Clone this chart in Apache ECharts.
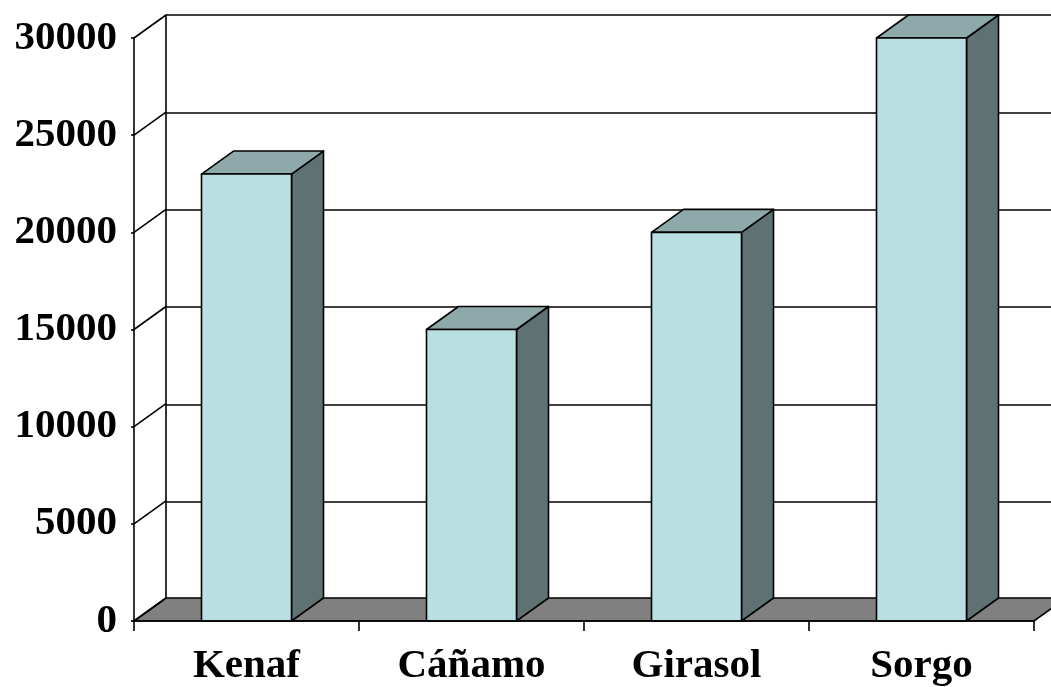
<!DOCTYPE html>
<html><head><meta charset="utf-8">
<script src="https://cdn.jsdelivr.net/npm/echarts@6/dist/echarts.min.js"></script>
<style>html,body{margin:0;padding:0;background:#fff}#c{width:1051px;height:687px}</style>
</head><body><div id="c"></div>
<script>
const categories = ['Kenaf', 'Cáñamo', 'Girasol', 'Sorgo'];
const values = [23000, 15000, 20000, 30000];
const yTicks = [0, 5000, 10000, 15000, 20000, 25000, 30000];

const DX = 32, DY = -23;
const FONT = "'Liberation Serif','Times New Roman',serif";
const C_FRONT = '#BADFE2', C_TOP = '#8EA9AA', C_SIDE = '#5F7273', C_FLOOR = '#808080';
const LW = 1.6;

const chart = echarts.init(document.getElementById('c'), null, {renderer: 'canvas'});
chart.setOption({
  animation: false,
  grid: [
    {left: 134, right: 17, top: 38, bottom: 65},
    {left: 166, right: -15, top: 15, bottom: 88}
  ],
  xAxis: [
    {type: 'category', gridIndex: 0, data: categories, boundaryGap: true, z: 5,
     axisLine: {lineStyle: {color: '#000', width: LW}},
     axisTick: {show: true, length: 10, lineStyle: {color: '#000', width: LW}},
     axisLabel: {color: '#000', fontFamily: FONT, fontWeight: 'bold', fontSize: 41, margin: 25}},
    {type: 'category', gridIndex: 1, data: categories, show: false}
  ],
  yAxis: [
    {type: 'value', gridIndex: 0, min: 0, max: 30000, interval: 5000, z: 5,
     splitLine: {show: false},
     axisLine: {show: true, lineStyle: {color: '#000', width: LW}},
     axisTick: {show: true, length: 3, lineStyle: {color: '#000', width: LW}},
     axisLabel: {color: '#000', fontFamily: FONT, fontWeight: 'bold', fontSize: 41, margin: 17,
       formatter: v => String(v)}},
    {type: 'value', gridIndex: 1, min: 0, max: 30000, interval: 5000, z: 0,
     splitLine: {show: true, lineStyle: {color: '#000', width: LW}},
     axisLine: {show: true, lineStyle: {color: '#000', width: LW}},
     axisTick: {show: false}, axisLabel: {show: false}}
  ],
  series: [
    {
      type: 'custom', xAxisIndex: 0, yAxisIndex: 0, z: 1,
      data: [[0, 0]],
      renderItem: function (params, api) {
        const cs = params.coordSys;
        const yb = api.coord([0, 0])[1];
        const x0 = cs.x, x1 = cs.x + cs.width;
        return {type: 'polygon', shape: {points: [[x0, yb], [x1, yb], [x1 + DX, yb + DY], [x0 + DX, yb + DY]]},
          style: {fill: C_FLOOR, stroke: '#000', lineWidth: LW}};
      }
    },
    {
      type: 'custom', xAxisIndex: 0, yAxisIndex: 0, z: 2,
      data: yTicks.map(v => [0, v]),
      renderItem: function (params, api) {
        const x = params.coordSys.x;
        const y = api.coord([0, api.value(1)])[1];
        return {type: 'line', shape: {x1: x, y1: y, x2: x + DX, y2: y + DY},
          style: {stroke: '#000', lineWidth: LW}};
      }
    },
    {
      type: 'custom', xAxisIndex: 0, yAxisIndex: 0, z: 3,
      data: values.map((v, i) => [i, v]),
      renderItem: function (params, api) {
        const i = api.value(0), v = api.value(1);
        const top = api.coord([i, v]);
        const base = api.coord([i, 0]);
        const w = api.size([1, 0])[0] * 0.4;
        const x0 = top[0] - w / 2, x1 = top[0] + w / 2;
        const yt = top[1], yb = base[1];
        const st = {stroke: '#000', lineWidth: LW, lineJoin: 'round'};
        return {type: 'group', children: [
          {type: 'polygon', shape: {points: [[x1, yt], [x1 + DX, yt + DY], [x1 + DX, yb + DY], [x1, yb]]},
            style: Object.assign({fill: C_SIDE}, st)},
          {type: 'polygon', shape: {points: [[x0, yt], [x1, yt], [x1 + DX, yt + DY], [x0 + DX, yt + DY]]},
            style: Object.assign({fill: C_TOP}, st)},
          {type: 'polygon', shape: {points: [[x0, yt], [x1, yt], [x1, yb], [x0, yb]]},
            style: Object.assign({fill: C_FRONT}, st)}
        ]};
      }
    }
  ]
});
</script></body></html>
